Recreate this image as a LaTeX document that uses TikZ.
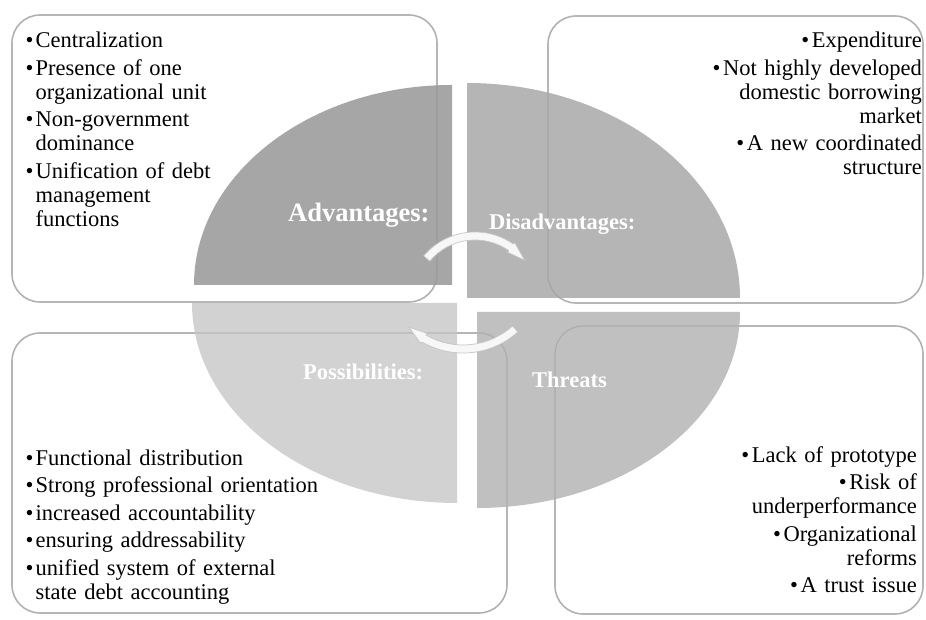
\documentclass[tikz,border=0pt]{standalone}
\usepackage{fontspec}
\setmainfont{Liberation Serif}
\usetikzlibrary{positioning}
\definecolor{boxline}{HTML}{C4C4C4}
\definecolor{advfill}{HTML}{A6A6A6}
\definecolor{disfill}{HTML}{B5B5B5}
\definecolor{posfill}{HTML}{D2D2D2}
\definecolor{thrfill}{HTML}{C0C0C0}
\newcommand{\bul}{\makebox[10pt][l]{\textbullet}}
\newcommand{\rbul}{\textbullet\hspace{2.5pt}}
\newcommand{\hang}{\hspace*{10pt}}

\begin{document}
\begin{tikzpicture}[x=1pt, y=1pt,
    infobox/.style={draw=boxline, line width=1.6pt, rounded corners=28pt, fill=white},
    boxghost/.style={draw=gray, line width=1.2pt, rounded corners=28pt, draw opacity=0.3},
    cyclearrow/.style={fill=white!94!gray, draw=gray!45, line width=0.7pt, line join=round},
    heading/.style={text=white, font=\bfseries\fontsize{22.5}{24}\selectfont, inner sep=0pt, anchor=base west},
    itemlist/.style={font=\fontsize{22.5}{24}\selectfont, inner sep=0pt, text width=300pt}]

\useasboundingbox (0,0) rectangle (926,619);

% text boxes
\draw[infobox] (12,317) rectangle (437,604);
\draw[infobox] (548,316) rectangle (923,603);
\draw[infobox] (12,6) rectangle (507,286);
\draw[infobox] (555,5) rectangle (923,293);

% four quarters of the cycle
\fill[advfill] (452,334) -- (194,334) arc[start angle=180, end angle=90, x radius=258, y radius=200] -- cycle;
\fill[disfill] (467,321) -- (467,536) arc[start angle=90, end angle=0, x radius=273, y radius=215] -- cycle;
\fill[posfill] (457,316) -- (192,316) arc[start angle=180, end angle=270, x radius=265, y radius=200] -- cycle;
\fill[thrfill] (477,307) -- (740,307) arc[start angle=0, end angle=-90, x radius=263, y radius=196] -- cycle;

% box edges seen through the quarters
\draw[boxghost] (12,317) rectangle (437,604);
\draw[boxghost] (548,316) rectangle (923,603);
\draw[boxghost] (12,6) rectangle (507,286);
\draw[boxghost] (555,5) rectangle (923,293);

% curved arrows
\draw[cyclearrow, shift={(475,320)}] (140:67) arc[start angle=140, end angle=55, radius=67]
    -- (55:69) -- (38:63) -- (55:57) -- (55:59) arc[start angle=55, end angle=140, radius=59] -- cycle;
\draw[cyclearrow, shift={(463,348)}] (312:82) arc[start angle=312, end angle=240, radius=82]
    -- (240:84) -- (226:78) -- (240:72) -- (240:74) arc[start angle=240, end angle=312, radius=74] -- cycle;

% quarter labels
\node[heading, font=\bfseries\fontsize{26.5}{28}\selectfont] (adv) at (288,397) {Advantages:};
\node[heading] (dis) at (489,389) {Disadvantages:};
\node[heading] (pos) at (303,239) {Possibilities:};
\node[heading] (thr) at (532,232) {Threats};

% lists
\node[itemlist, align=left, anchor=base west] (advlist) at (25.5,571) {%
\bul Centralization\\[3.5pt]
\bul Presence of one\\
\hang organizational unit\\[3.5pt]
\bul Non-government\\
\hang dominance\\[3.5pt]
\bul Unification of debt\\
\hang management\\
\hang functions};

\node[itemlist, align=right, anchor=base east] (dislist) at (922,571) {%
\rbul Expenditure\\[3.5pt]
\rbul Not highly developed\\
domestic borrowing\\
market\\[3.5pt]
\rbul A new coordinated\\
structure};

\node[itemlist, align=left, anchor=base west] (poslist) at (25.5,154) {%
\bul Functional distribution\\[3.5pt]
\bul Strong professional orientation\\[3.5pt]
\bul increased accountability\\[3.5pt]
\bul ensuring addressability\\[3.5pt]
\bul unified system of external\\
\hang state debt accounting};

\node[itemlist, align=right, anchor=base east] (thrlist) at (917,157) {%
\rbul Lack of prototype\\[3.5pt]
\rbul Risk of\\
underperformance\\[3.5pt]
\rbul Organizational\\
reforms\\[3.5pt]
\rbul A trust issue};
\end{tikzpicture}
\end{document}
